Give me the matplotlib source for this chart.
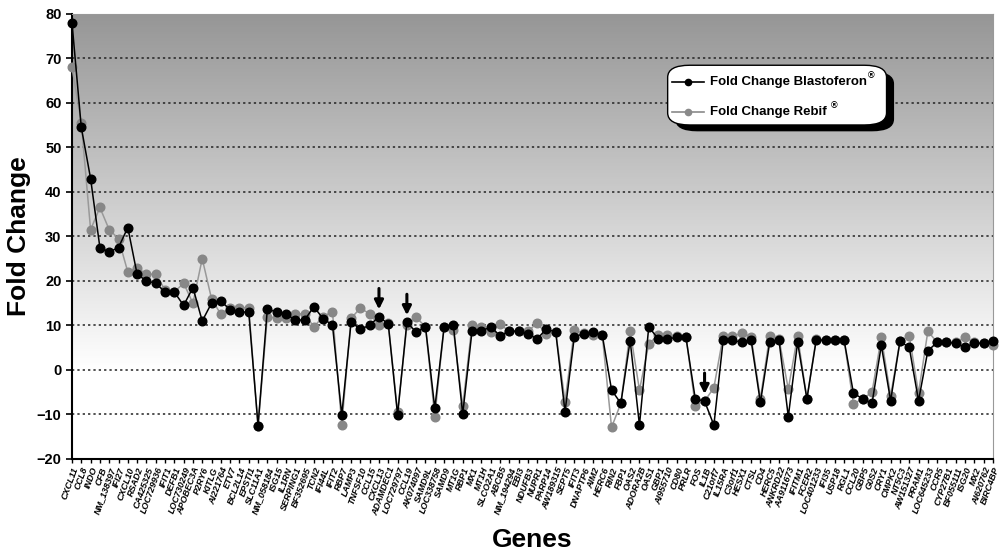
import numpy as np
import matplotlib
matplotlib.use("Agg")
import matplotlib.pyplot as plt
from matplotlib.patches import FancyBboxPatch
from matplotlib.lines import Line2D

plt.rcParams['font.family'] = ['Liberation Sans', 'DejaVu Sans']

# gene names along the x axis
genes = ["CXCL11", "CCL8", "INDO", "CFB", "NM_138397", "IFI27", "CXCL10", "RSAD2",
         "CA425325", "LOC729936", "IFIT1", "DEFB1", "LOC730249", "APOBEC3A", "P2RY6",
         "KITLG", "AI221764", "ETV7", "BCL2L14", "EPSTI1", "SLC11A1", "NM_058184",
         "ISG15", "IL1RN", "SERPING1", "BF352695", "TCN2", "IFI44L", "IFIT2", "RBP7",
         "LAMP3", "TNFSF10", "CCL15", "CXCL13", "ADAMDEC1", "LOC729797", "CCL19",
         "AK074097", "SAMD9L", "LOC338758", "SAMD9", "MT1G", "RBP1", "MX1", "MT1H",
         "SLCO2A1", "ABCB5", "NM_194294", "EBI3", "NDUFB3", "NUPR1", "PARP14",
         "AW189315", "SEPT5", "IFIT3", "DNAPTP6", "AIM2", "HERC6", "RIN2", "FBP1",
         "OAS2", "ADORA2B", "OAS1", "GBP1", "AI955710", "CD80", "PRLR", "FOS", "IL1B",
         "C21orf7", "IL15RA", "C3orf1", "HESX1", "CTSL", "CD4", "HERC5", "ANKRD22",
         "AA911673", "IFITM1", "FCER2", "LOC401233", "IFI35", "USP18", "RGL1", "CCL20",
         "GBP5", "G0S2", "CRY1", "CMPK2", "NT5C3", "AW151327", "PRAM1", "LOC645233",
         "CCR5", "CYP27B1", "BF055111", "ISG20", "MX2", "AI620762", "BIRC4BP"]

blastoferon = [78, 54.5, 43, 27.5, 26.5, 27.5, 32, 21.5, 20, 19.5,
               17.5, 17.5, 14.5, 18.5, 11, 15, 15.5, 13.5, 13, 13,
               -12.5, 13.7, 13, 12.6, 11.2, 11.2, 14.2, 11.5, 10.1, -10.1,
               10.7, 9.2, 10, 12, 10.3, -10.1, 10.7, 8.5, 9.7, -8.6,
               9.6, 10, -9.9, 8.7, 8.7, 9.7, 7.7, 8.7, 8.7, 8.1,
               7, 9.2, 8.5, -9.4, 7.5, 8.1, 8.5, 7.9, -4.5, -7.5,
               6.6, -12.4, 9.7, 7, 7, 7.3, 7.3, -6.5, -7, -12.4,
               6.7, 6.7, 6.2, 6.7, -7.3, 6.2, 6.7, -10.5, 6.2, -6.5,
               6.7, 6.7, 6.7, 6.7, -5.2, -6.5, -7.5, 5.5, -6.9, 6.4,
               5.1, -6.9, 4.3, 6.2, 6.2, 6.0, 5.1, 6.0, 6.0, 6.4]

rebif = [68, 55.5, 31.5, 36.5, 31.5, 29.5, 22, 23, 21.5, 21.5,
         18, 17.5, 19.5, 15, 25, 16, 12.5, 14, 14, 14,
         -12.7, 12, 11.6, 11.6, 12.6, 12.6, 9.7, 12, 13.1, -12.4,
         11.6, 13.9, 12.6, 10, 10.5, -9.5, 10, 11.8, 9.7, -10.5,
         9.7, 9, -8.2, 10, 9.7, 8.5, 10.3, 8.7, 8.7, 8.7,
         10.5, 8.1, 8.5, -7.1, 9, 8.2, 7.9, 7.9, -12.9, -7.5,
         8.7, -4.5, 5.8, 7.9, 7.9, 7.7, 7.5, -8, -7, -4,
         7.7, 7.7, 8.2, 7.5, -6.5, 7.7, 7, -4.3, 7.7, -6.5,
         7, 6.7, 6.7, 6.7, -7.6, -6.5, -5, 7.3, -5.8, 6.4,
         7.7, -5.2, 8.7, 6.2, 6.2, 6.2, 7.3, 6.2, 6.0, 5.7]

# genes marked with an arrow
arrow_genes = ["CXCL13", "CCL19", "IL1B"]

fig = plt.figure(figsize=(10.04, 5.53), dpi=100)
ax = fig.add_axes([0.0717, 0.17, 0.9173, 0.805])

x = np.arange(len(genes))
ax.set_xlim(0, len(genes) - 1)
ax.set_ylim(-20, 80)

# grey gradient background, dark at the top fading to white
grad = np.linspace(1, 0, 256).reshape(-1, 1)
grad = np.clip((grad - 0.2) / 0.8, 0, 1)
ax.imshow(grad, extent=[0, len(genes) - 1, -20, 80], aspect='auto',
          cmap=matplotlib.colors.LinearSegmentedColormap.from_list('g', ['#ffffff', '#969696']),
          vmin=0, vmax=1, zorder=0, origin='upper')

for yv in range(-10, 80, 10):
    ax.axhline(yv, color='#222222', ls=(0, (1.5, 2)), lw=1.1, zorder=1)

ax.plot(x, rebif, color='#999999', lw=1.1, marker='o', ms=6.2,
        mfc='#878787', mec='#878787', zorder=3, clip_on=False)
ax.plot(x, blastoferon, color='black', lw=1.1, marker='o', ms=6.2,
        mfc='black', mec='black', zorder=4, clip_on=False)

for g in arrow_genes:
    i = genes.index(g)
    top = max(blastoferon[i], rebif[i])
    ax.annotate('', xy=(i, top + 1.6), xytext=(i, top + 6.3),
                arrowprops=dict(arrowstyle='-|>', color='black', lw=2.2,
                                mutation_scale=13, shrinkA=0, shrinkB=0), zorder=5)

ax.set_xticks(x)
ax.set_xticklabels(genes, rotation=70, ha='right', rotation_mode='anchor',
                   fontsize=6.5, fontweight='bold', fontstyle='italic')
ax.set_yticks(range(-20, 90, 10))
ax.tick_params(axis='y', labelsize=10.5, width=1.2, length=4)
ax.tick_params(axis='x', width=1, length=3, pad=2)
for lab in ax.get_yticklabels():
    lab.set_fontweight('bold')

ax.spines['left'].set_linewidth(1.5)
ax.spines['bottom'].set_linewidth(1.5)
ax.spines['top'].set_color('#999999')
ax.spines['right'].set_color('#999999')

ax.set_ylabel('Fold Change', fontsize=19, fontweight='bold', labelpad=4)
ax.set_xlabel('Genes', fontsize=19, fontweight='bold', labelpad=8)

# rounded legend box with a shadow
shadow = FancyBboxPatch((0.6725, 0.7625), 0.218, 0.108, boxstyle='round,pad=0,rounding_size=0.022',
                        transform=fig.transFigure, facecolor='black', edgecolor='none', zorder=10)
box = FancyBboxPatch((0.665, 0.774), 0.218, 0.108, boxstyle='round,pad=0,rounding_size=0.022',
                     transform=fig.transFigure, facecolor='white', edgecolor='black', lw=1, zorder=11)
fig.patches.extend([shadow, box])
for yy, col, txt in [(0.851, 'black', 'Fold Change Blastoferon'),
                     (0.798, '#8a8a8a', 'Fold Change Rebif ')]:
    fig.add_artist(Line2D([0.669, 0.701], [yy, yy], color=col, lw=1.2,
                          transform=fig.transFigure, zorder=12))
    fig.add_artist(Line2D([0.685], [yy], color=col, marker='o', ms=4.5,
                          transform=fig.transFigure, zorder=12))
    t = fig.text(0.707, yy, txt, fontsize=9.5, fontweight='bold', va='center', zorder=12)
    fig.canvas.draw()
    bb = t.get_window_extent().transformed(fig.transFigure.inverted())
    fig.text(bb.x1 + 0.001, yy + 0.012, '\u00ae', fontsize=6.5, fontweight='bold',
             va='center', zorder=12)

fig.savefig('out.png', dpi=100)
